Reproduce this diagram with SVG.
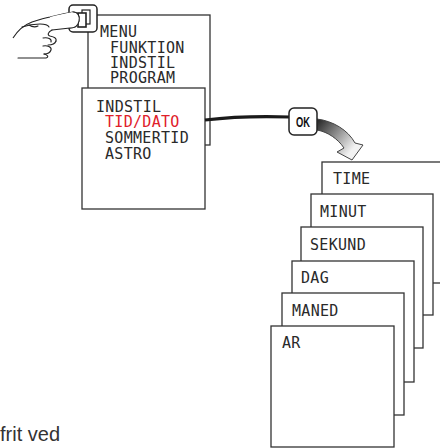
<svg xmlns="http://www.w3.org/2000/svg" width="440" height="448" viewBox="0 0 440 448">
<style>
.box{fill:#fff;stroke:#333;stroke-width:1.3}
.lcd{font-family:"DejaVu Sans Mono","Liberation Mono",monospace;font-size:15px;letter-spacing:0.3px;fill:#2a2a2a}
.red{fill:#e0202a}
.hand{fill:none;stroke:#222;stroke-width:1.1;stroke-linecap:round;stroke-linejoin:round}
</style>
<defs>
<linearGradient id="g" gradientUnits="userSpaceOnUse" x1="317" y1="122" x2="352" y2="150">
<stop offset="0" stop-color="#2a2a2a"/>
<stop offset="1" stop-color="#f2f2f2"/>
</linearGradient>
</defs>

<g id="menu">
<rect class="box" x="88" y="15" width="122" height="130"/>
<text class="lcd" x="100" y="37">MENU</text>
<text class="lcd" x="110" y="53">FUNKTION</text>
<text class="lcd" x="110" y="68">INDSTIL</text>
<text class="lcd" x="110" y="83">PROGRAM</text>
</g>

<g id="button">
<rect x="69" y="5" width="28" height="27" rx="4" fill="#fff" stroke="#222" stroke-width="1.5"/>
<rect x="82" y="10" width="8" height="14" fill="#fff" stroke="#222" stroke-width="1.2"/>
<rect x="78" y="13" width="8" height="14" fill="#fff" stroke="#222" stroke-width="1.6"/>
</g>

<g id="hand">
<path d="M70,28 C75,28 78,26 79,21 C80,16 78,12 73,12 C66,13 58,15 50,17 C44,18 38,20 32,22 C24,25 18,30 13,38" fill="none" stroke="#222" stroke-width="1.1"/>
<path d="M73,12 C78,12 80,16 79,21 C78,26 75,28 70,28 L52,30 L50,17 C58,15 66,13 73,12 Z" fill="#fff" stroke="none"/>
<path class="hand" d="M73,12 C78,12 80,16 79,21 C78,26 75,28 70,28 L52,30"/>
<path class="hand" d="M22,27 C28,25 34,24 40,24 C45,24 48,25 49,27"/>
<path class="hand" d="M29,25 C32,27 36,27 38,26"/>
<path class="hand" d="M52,30 C48,32 47,35 50,36 C54,37 57,38 56,41"/>
<path class="hand" d="M43,38 C48,37 52,39 51,42"/>
<path class="hand" d="M56,41 C55,44 52,45 48,45"/>
<path class="hand" d="M43,46 C47,45 52,47 51,50 C50,53 47,54 44,54"/>
<path class="hand" d="M44,54 C48,55 49,57 46,58 L18,58"/>
</g>

<g id="indstil">
<rect class="box" x="82" y="88" width="123" height="121"/>
<text class="lcd" x="96" y="112">INDSTIL</text>
<text class="lcd red" x="105" y="127">TID/DATO</text>
<text class="lcd" x="105" y="143">SOMMERTID</text>
<text class="lcd" x="105" y="159">ASTRO</text>
</g>

<g id="connectors">
<path d="M205,120 C230,117 260,116 290,117" fill="none" stroke="#1a1a1a" stroke-width="3.2"/>
<path d="M317,119 C333,121 348,130 355,143 L363,145 L352,160 L337,152 L344,148 C338,139 328,132 317,130 Z" fill="url(#g)" stroke="#444" stroke-width="1"/>
</g>

<g id="ok">
<rect x="289" y="108" width="28" height="27" rx="5" fill="#fff" stroke="#222" stroke-width="1.5"/>
<text x="303" y="127" text-anchor="middle" font-family="Liberation Sans,Arial,sans-serif" font-weight="bold" font-size="14" textLength="14" lengthAdjust="spacingAndGlyphs" fill="#111">OK</text>
</g>

<g id="time">
<rect class="box" x="322" y="162" width="130" height="121"/>
<text class="lcd" x="333" y="184">TIME</text>
</g>
<g id="minut">
<rect class="box" x="311" y="194" width="122" height="121"/>
<text class="lcd" x="320" y="217">MINUT</text>
</g>
<g id="sekund">
<rect class="box" x="301" y="227" width="122" height="121"/>
<text class="lcd" x="310" y="250">SEKUND</text>
</g>
<g id="dag">
<rect class="box" x="292" y="261" width="122" height="121"/>
<text class="lcd" x="301" y="283">DAG</text>
</g>
<g id="maned">
<rect class="box" x="282" y="293" width="122" height="122"/>
<text class="lcd" x="292" y="316">MANED</text>
</g>
<g id="ar">
<rect class="box" x="271" y="326" width="123" height="121"/>
<text class="lcd" x="282" y="348">AR</text>
</g>

<text x="0" y="441" font-family="Liberation Sans,Arial,sans-serif" font-size="20" fill="#333">frit ved</text>
</svg>
